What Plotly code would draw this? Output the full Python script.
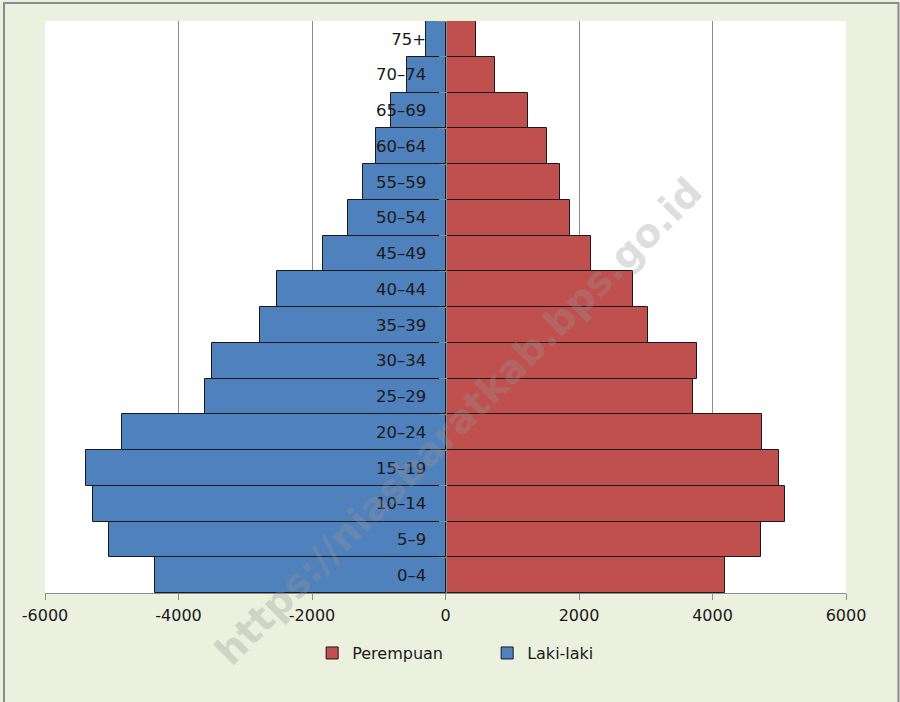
import plotly.graph_objects as go

# kelompok umur, dari bawah ke atas
kelompok_umur = ['0–4', '5–9', '10–14', '15–19', '20–24', '25–29', '30–34', '35–39',
                 '40–44', '45–49', '50–54', '55–59', '60–64', '65–69', '70–74', '75+']

laki_laki = [4352, 5037, 5276, 5390, 4842, 3603, 3503, 2775,
             2520, 1840, 1465, 1231, 1041, 816, 581, 297]

perempuan = [4192, 4722, 5082, 4992, 4737, 3703, 3763, 3038,
             2813, 2175, 1865, 1720, 1525, 1240, 742, 461]

sumbu_x = [-6000, -4000, -2000, 0, 2000, 4000, 6000]
label_x = ['-6000', '-4000', '-2000', '0', '2000', '4000', '6000']

FONT = 'DejaVu Sans'
GRIS = '#8c8c8c'

fig = go.Figure()

fig.add_trace(go.Bar(
    y=kelompok_umur, x=perempuan, orientation='h', name='Perempuan',
    marker=dict(color='#C0504D', line=dict(color='#1a1a1a', width=1)),
))
fig.add_trace(go.Bar(
    y=kelompok_umur, x=[-v for v in laki_laki], orientation='h', name='Laki-laki',
    marker=dict(color='#4F81BD', line=dict(color='#1a1a1a', width=1)),
))

# watermark
fig.add_annotation(
    text='https://niasbaratkab.bps.go.id', xref='paper', yref='paper',
    x=0.516, y=0.30, xanchor='center', yanchor='middle', textangle=-45,
    showarrow=False, font=dict(family=FONT, size=39, color='rgba(150,150,150,0.33)', weight='bold'),
)

# bingkai luar
fig.add_shape(type='rect', xref='paper', yref='paper',
              x0=-0.0512, x1=1.0655, y0=-0.21, y1=1.0315,
              line=dict(color=GRIS, width=2), layer='below')

fig.update_layout(
    width=900, height=702,
    margin=dict(l=45, r=54, t=21, b=109),
    paper_bgcolor='#EBF1DE', plot_bgcolor='white',
    barmode='overlay', bargap=0,
    font=dict(family=FONT, size=16, color='#1a1a1a'),
    showlegend=True,
    legend=dict(orientation='h', x=0.552, xanchor='center', y=-0.105, yanchor='middle',
                font=dict(size=16), traceorder='normal', entrywidth=130,
                bgcolor='rgba(0,0,0,0)'),
    xaxis=dict(range=[-6000, 6000], tickvals=sumbu_x, ticktext=label_x,
               showgrid=True, gridcolor=GRIS, gridwidth=1, zeroline=False,
               showline=True, linecolor=GRIS, linewidth=1, mirror=False,
               ticks='outside', ticklen=6, tickcolor=GRIS, ticklabelstandoff=2,
               fixedrange=True),
    yaxis=dict(anchor='free', position=0.5, showgrid=False, zeroline=False,
               showline=True, linecolor=GRIS, linewidth=1,
               ticks='outside', ticklen=7, tickcolor=GRIS, tickson='boundaries',
               ticklabelstandoff=16, categoryorder='array', categoryarray=kelompok_umur,
               tickfont=dict(size=16.5), fixedrange=True),
)

fig.write_html('out.html', config={'displayModeBar': False},
               post_script="document.body.style.margin='0';")
